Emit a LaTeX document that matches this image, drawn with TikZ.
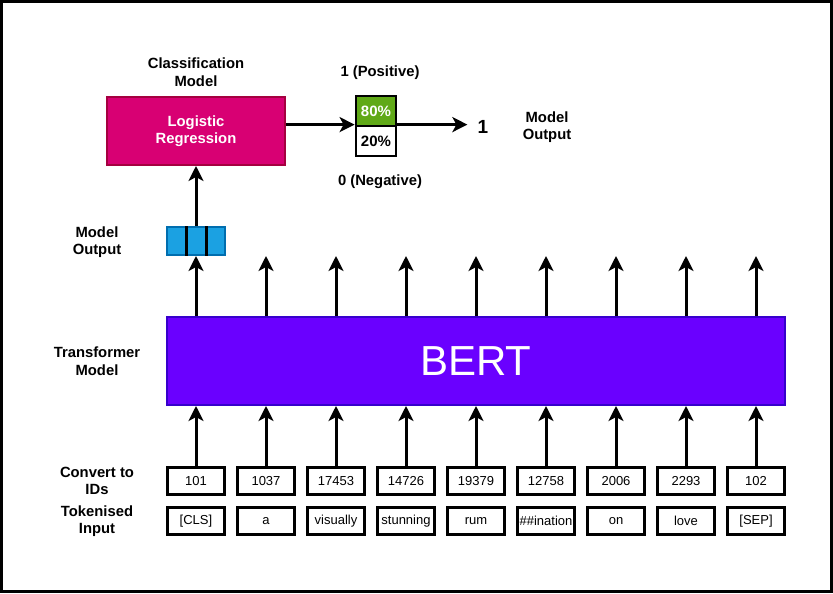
\documentclass[tikz,border=0pt]{standalone}
\usepackage{fontspec}
\setmainfont{Liberation Sans}
\usetikzlibrary{arrows.meta}

\definecolor{bertfill}{HTML}{6A00FF}
\definecolor{bertline}{HTML}{3700CC}
\definecolor{lrfill}{HTML}{D80073}
\definecolor{lrline}{HTML}{A50040}
\definecolor{embfill}{HTML}{1BA1E2}
\definecolor{embline}{HTML}{006EAF}
\definecolor{posfill}{HTML}{60A917}

\tikzset{
  lbl/.style={font=\bfseries\fontsize{14.8}{17.5}\selectfont, align=center, inner sep=0pt},
  tok/.style={draw, line width=2.8pt, minimum width=57pt, minimum height=27pt, inner sep=0pt, font=\fontsize{13}{16}\selectfont},
  cell/.style={draw, line width=2.8pt, minimum width=40pt, minimum height=30pt, inner sep=0pt, font=\bfseries\fontsize{15}{17}\selectfont},
  arr/.style={line width=3pt, -{Stealth[length=15pt, width=15pt, inset=4pt]}},
}

\begin{document}
\begin{tikzpicture}[x=1pt, y=-1pt]
  \useasboundingbox (0,0) rectangle (833,594);
  \draw[line width=3pt] (1.5,1.5) rectangle (831.5,591.5);

  % labels on the left
  \node[lbl] (lblout) at (97,242) {Model\\Output};
  \node[lbl] (lbltrans) at (97,361) {Transformer\\Model};
  \node[lbl] (lblids) at (97,481) {Convert to\\IDs};
  \node[lbl] (lbltok) at (97,521) {Tokenised\\Input};

  % transformer
  \node[draw=bertline, fill=bertfill, line width=2pt, minimum width=618pt, minimum height=88pt,
        text=white, font=\fontsize{42}{50}\selectfont] (bert) at (476,361) {BERT};

  % input tokens and their ids
  \foreach \id/\tok [count=\i] in {101/{[CLS]}, 1037/a, 17453/visually, 14726/stunning,
      19379/rum, 12758/\#\#ination, 2006/on, 2293/love, 102/{[SEP]}} {
    \node[tok] (id\i) at (126+70*\i,481) {\id};
    \node[tok] (tok\i) at (126+70*\i,521) {\tok};
    \draw[arr] (id\i) -- (id\i |- bert.south);
  }

  % outputs of the transformer
  \node[draw=embline, fill=embfill, line width=2pt, minimum width=58pt, minimum height=28pt] (emb) at (196,241) {};
  \draw[line width=3pt] ([xshift=-10pt]emb.north) -- ([xshift=-10pt]emb.south);
  \draw[line width=3pt] ([xshift=10pt]emb.north) -- ([xshift=10pt]emb.south);
  \draw[arr] (emb |- bert.north) -- (emb);
  \foreach \i in {2,...,9} {
    \coordinate (out\i) at (126+70*\i,256);
    \draw[arr] (out\i |- bert.north) -- (out\i);
  }

  % classification head
  \node[draw=lrline, fill=lrfill, line width=2pt, minimum width=178pt, minimum height=68pt,
        text=white, lbl] (lr) at (196,131) {Logistic\\Regression};
  \node[lbl] (clf) at (196,72) {Classification\\Model};
  \draw[arr] (emb) -- (lr);

  \node[cell, fill=posfill, text=white] (pos) at (376,111) {80\%};
  \node[cell, fill=white] (neg) at (376,141) {20\%};
  \node[lbl] (poslbl) at (380,73) {1 (Positive)};
  \node[lbl] (neglbl) at (380,182) {0 (Negative)};
  \draw[arr] (lr.east |- neg.north west) -- (neg.north west);

  \coordinate (res) at ([xshift=70pt]neg.north east);
  \draw[arr] (neg.north east) -- (res);
  \node[font=\bfseries\fontsize{19}{22}\selectfont] (one) at (483,127) {1};
  \node[lbl] (lblres) at (547,127) {Model\\Output};
\end{tikzpicture}
\end{document}
